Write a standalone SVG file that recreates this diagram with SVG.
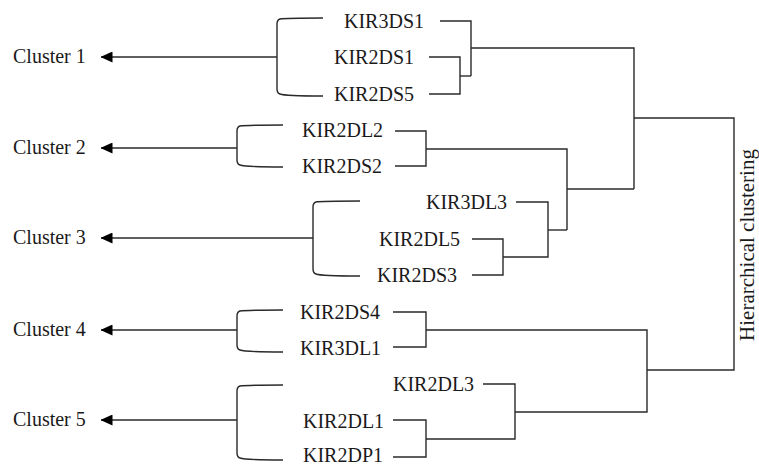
<svg xmlns="http://www.w3.org/2000/svg" width="759" height="466" viewBox="0 0 759 466">
<defs>
<style>
text{font-family:"Liberation Serif","Times New Roman",serif;font-size:20px;fill:#1a1a1a}
.ln{fill:none;stroke:#2a2a2a;stroke-width:1.4}
.br{fill:none;stroke:#2a2a2a;stroke-width:1.4}
</style>
<marker id="ah" viewBox="0 0 12 11" refX="11.5" refY="5.5" markerWidth="12" markerHeight="11" markerUnits="userSpaceOnUse" orient="auto">
<path d="M0,0 L12,5.5 L0,11 Z" fill="#000"/>
</marker>
</defs>
<rect width="759" height="466" fill="#fff"/>

<g id="cluster1"><text x="13" y="63">Cluster 1</text></g>
<g id="cluster2"><text x="13" y="154">Cluster 2</text></g>
<g id="cluster3"><text x="13" y="244">Cluster 3</text></g>
<g id="cluster4"><text x="13" y="336">Cluster 4</text></g>
<g id="cluster5"><text x="13" y="426">Cluster 5</text></g>

<g id="KIR3DS1"><text x="344" y="28">KIR3DS1</text></g>
<g id="KIR2DS1"><text x="334" y="64">KIR2DS1</text></g>
<g id="KIR2DS5"><text x="334" y="101">KIR2DS5</text></g>
<g id="KIR2DL2"><text x="302" y="137">KIR2DL2</text></g>
<g id="KIR2DS2"><text x="302" y="173">KIR2DS2</text></g>
<g id="KIR3DL3"><text x="426" y="209">KIR3DL3</text></g>
<g id="KIR2DL5"><text x="379" y="246">KIR2DL5</text></g>
<g id="KIR2DS3"><text x="377" y="282">KIR2DS3</text></g>
<g id="KIR2DS4"><text x="300" y="319">KIR2DS4</text></g>
<g id="KIR3DL1"><text x="300" y="355">KIR3DL1</text></g>
<g id="KIR2DL3"><text x="393" y="391">KIR2DL3</text></g>
<g id="KIR2DL1"><text x="303" y="428">KIR2DL1</text></g>
<g id="KIR2DP1"><text x="303" y="462">KIR2DP1</text></g>

<g id="axis-label"><text transform="translate(754,245) rotate(-90)" text-anchor="middle" style="font-size:21px">Hierarchical clustering</text></g>

<g id="brackets">
<path class="br" d="M323,18 Q285,18 280,19 Q277,20 277,24 L277,89 Q277,93 280,94 Q285,96 323,96"/>
<path class="br" d="M283,125 Q245,125 240,126 Q237,127 237,131 L237,160 Q237,164 240,165 Q245,167 283,167"/>
<path class="br" d="M360,201 Q321,201 316,202 Q313,203 313,207 L313,269 Q313,273 316,274 Q321,276 360,276"/>
<path class="br" d="M283,310 Q245,310 240,311 Q237,312 237,316 L237,345 Q237,349 240,350 Q245,352 283,352"/>
<path class="br" d="M283,385 Q245,385 240,386 Q237,387 237,391 L237,453 Q237,457 240,458 Q245,460 283,460"/>
</g>

<g id="connectors">
<line class="ln" x1="277" y1="57" x2="101" y2="57" marker-end="url(#ah)"/>
<line class="ln" x1="237" y1="148" x2="101" y2="148" marker-end="url(#ah)"/>
<line class="ln" x1="313" y1="238" x2="101" y2="238" marker-end="url(#ah)"/>
<line class="ln" x1="237" y1="330" x2="101" y2="330" marker-end="url(#ah)"/>
<line class="ln" x1="237" y1="420" x2="101" y2="420" marker-end="url(#ah)"/>

<path class="ln" d="M440,21 H471 V76"/>
<path class="ln" d="M429,57 H460 V94 H429"/>
<path class="ln" d="M460,76 H471"/>
<path class="ln" d="M471,48 H634 V189"/>
<path class="ln" d="M395,131 H426 V166 H395"/>
<path class="ln" d="M426,149 H567 V230"/>
<path class="ln" d="M516,202 H548 V257 H503"/>
<path class="ln" d="M472,239 H503 V275 H472"/>
<path class="ln" d="M548,230 H567"/>
<path class="ln" d="M567,189 H634"/>
<path class="ln" d="M634,118 H734 V370 H647"/>
<path class="ln" d="M393,312 H426 V347 H393"/>
<path class="ln" d="M426,330 H647 V412 H515"/>
<path class="ln" d="M483,384 H515 V439 H426"/>
<path class="ln" d="M393,420 H426 V457 H393"/>
</g>
</svg>
